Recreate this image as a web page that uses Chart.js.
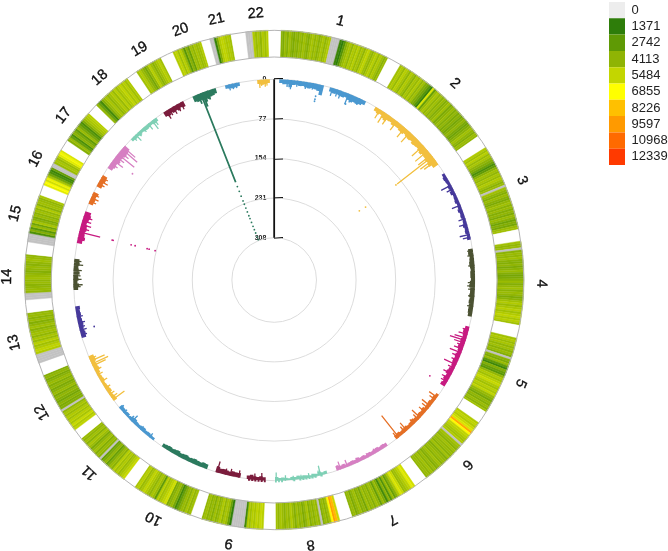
<!DOCTYPE html>
<html><head><meta charset="utf-8">
<style>html,body{margin:0;padding:0;background:#fff}canvas{display:block}</style>
<script src="https://cdn.jsdelivr.net/npm/chart.js@4"></script>
</head><body><canvas id="c" width="668" height="551"></canvas>
<script>
const chromosomes=['1','2','3','4','5','6','7','8','9','10','11','12','13','14','15','16','17','18','19','20','21','22'];
const chrSpan=[25.7,24.4,20.4,19.5,18.5,17.6,16.2,15,14.5,14.4,13.6,14.6,11.9,10.6,11.2,9.1,8,9.5,6.5,7,5,5.3];
const chrGap=[3.2,3.1,2.7,3,2.9,3.1,2.9,2.8,2.6,3,2.4,2.9,3,2.8,2.4,2.5,2.5,2.5,3,2,3.4,2.8];
const legendLabels=['0','1371','2742','4113','5484','6855','8226','9597','10968','12339'];
const legendColors=['#ededed','#2e7d0a','#5f9a05','#8fb404','#c3d600','#ffff00','#ffc000','#ff9a00','#ff6a00','#ff3a00'];
const axisTicks=[0,77,154,231,308];
const trackColors=['#4a98d0','#f2bf3e','#46399b','#4b5232','#c71a80','#e56f25','#d67fc2','#7ed0b5','#7b1c3c','#2b7a5e'];

// ring: density per bin, in hundreds of variants (null = no data)
const d1=[40,36,44,38,46,40,36,42,38,44,40,46,42,38,44,48,42,46,40,44,48,42,46,50,null,null,null,null,18,14,24,38,44,48,42,50,46,52,44,48,42,50,54,46,42,48,52,44,50,46,40,44];
const d2=[46,50,44,52,48,42,50,46,40,48,44,50,42,46,38,34,26,16,60,30,44,48,42,46,40,44,38,42,46,36,40,44,38,42,36,40,34,38,42,36,32,36,40,46,42,38,44,42];
const d3=[50,46,52,44,48,42,38,32,22,28,40,46,42,48,44,50,46,40,44,null,46,42,38,44,40,36,42,46,40,44,38,42,36,44,40,32,38,34,44,46];
const d4=[46,42,44,null,40,44,42,46,40,38,42,36,40,44,38,34,36,40,44,38,42,46,40,44,42,36,40,46,50,44,48,52,46,50,54,48,52,46];
const d5=[46,50,44,48,42,46,40,44,38,null,40,36,44,28,18,38,30,26,42,50,46,52,56,50,46,52,48,54,44,40,34,42,38,44,40,46];
const d6=[50,54,50,56,60,90,70,54,52,48,46,50,null,46,44,40,46,42,44,40,46,38,42,44,40,46,42,38,44,40,46,42,44,42];
const d7=[58,62,54,50,46,44,56,60,50,40,30,44,24,40,20,36,44,30,42,46,38,44,40,46,34,42,38,46,42,36,44,40];
const d8=[56,84,94,70,46,40,44,38,null,42,46,40,44,38,48,42,36,44,40,46,38,44,50,42,46,40,44,48,42,46];
const d9=[52,56,50,54,48,52,46,50,20,null,null,null,null,null,null,14,30,44,48,42,50,44,40,46,38,44,40,46,42];
const d10=[46,42,48,40,44,38,30,20,34,44,40,36,58,54,50,46,52,28,44,48,42,46,50,54,48,44,52,48];
const d11=[56,52,48,44,50,46,52,40,44,38,30,42,36,30,null,40,44,38,46,42,36,44,48,40,46,42,44];
const d12=[54,50,56,48,52,46,50,44,48,42,null,38,36,40,34,38,42,36,44,40,36,42,38,44,40,36,42,38];
const d13=[null,null,null,null,50,54,50,46,52,44,48,42,46,44,40,46,42,38,44,40,44,42];
const d14=[null,null,null,42,44,42,40,44,42,46,44,42,38,42,44,40,42,46,44,42];
const d15=[null,null,null,null,22,38,26,44,32,48,40,36,44,40,46,42,50,40,46,44,42,48];
const d16=[62,68,58,64,48,34,22,18,30,null,null,44,48,44,50,62,66,60];
const d17=[38,44,30,22,40,36,28,44,36,28,22,36,44,48,50,52];
const d18=[42,30,20,38,44,48,42,46,50,44,52,46,50,54,48,52,46,50];
const d19=[46,50,44,40,34,42,52,46,40,44,48,52,46];
const d20=[50,54,46,52,44,26,40,30,46,42,48,44,46,50];
const d21=[null,null,16,36,50,54,52,48,50,46];
const d22=[null,null,null,50,44,48,42,50,46,52];
const ringBins=[d1,d2,d3,d4,d5,d6,d7,d8,d9,d10,d11,d12,d13,d14,d15,d16,d17,d18,d19,d20,d21,d22];

// track: baseline band depth per bin
const b1=[7,9,8,14,9,8,10,9,11,12,10,11,13,20,null,null,8,10,9,10,11,9,12,14,12,13,11,8];
const b2=[8,10,8,12,14,10,9,12,10,10,12,13,10,12,13,11,14,13,12,14,16,13,14,16,15,17,12];
const b3=[6,8,7,6,8,7,9,6,7,8,6,7,9,7,8,6,7,9,7,8,6,7];
const b4=[9,10,8,9,10,9,8,9,9,8,10,11,9,9,10,9,10,9,9,9,8];
const b5=[8,10,9,8,10,9,11,9,8,10,9,10,9,8,10,12,9,11,8,10];
const b6=[6,8,7,9,8,7,10,8,9,7,8,10,8,7,9,8,7,9,8];
const b7=[7,8,7,9,8,7,8,6,8,7,9,7,8,7,6,8,7,9];
const b8=[6,5,7,5,6,4,5,6,5,7,5,6,4,5,6,5,7];
const b9=[6,8,6,7,9,7,null,null,9,9,10,8,9,10,9,12];
const b10=[9,10,8,9,10,9,8,10,9,8,10,9,8,9,8,7];
const b11=[5,6,7,6,8,7,6,7,9,8,6,7,6,7,8];
const b12=[8,7,6,9,8,7,6,8,7,6,8,10,9,8,11,10];
const b13=[null,null,null,9,10,8,9,10,9,8,9,8,9];
const b14=[null,null,9,11,8,10,9,12,10,9,11,10];
const b15=[null,null,10,14,12,11,13,12,10,12,14,12];
const b16=[9,10,9,11,null,null,10,9,11,10];
const b17=[10,12,11,14,12,13,15,14,12];
const b18=[6,7,6,8,6,7,8,7,6,8,7];
const b19=[10,12,9,11,10,12,9,11];
const b20=[12,14,13,15,14,16,13,12,10];
const b21=[null,7,8,9,8,7];
const b22=[null,null,8,10,9,7];
const bandBins=[b1,b2,b3,b4,b5,b6,b7,b8,b9,b10,b11,b12,b13,b14,b15,b16,b17,b18,b19,b20,b21,b22];

// track: isolated spikes [genomic fraction, value]
const s1=[[.09,14],[.13,18],[.2,12],[.3,14],[.38,13],[.6,16],[.66,14],[.7,16],[.79,22],[.83,16],[.92,14]];
const s2=[[.06,20],[.12,24],[.18,22],[.3,22],[.42,24],[.5,26],[.72,30],[.8,32],[.86,32],[.885,87],[.92,34],[.95,28]];
const s3=[[.19,22],[.25,14],[.5,18],[.7,14],[.78,16],[.93,20],[.97,15]];
const s4=[[.03,11],[.1,12],[.25,12],[.5,14],[.55,15],[.6,13],[.7,12],[.85,12]];
const s5=[[.05,12],[.12,18],[.18,24],[.22,32],[.26,22],[.3,14],[.36,18],[.42,24],[.48,16],[.55,14],[.62,26],[.68,14],[.78,18],[.86,16],[.92,14]];
const s6=[[.05,19],[.1,14],[.23,21],[.28,16],[.36,16],[.48,22],[.52,14],[.62,12],[.78,20],[.82,14],[.95,54],[.98,14]];
const s7=[[.25,10],[.4,9],[.6,10],[.8,14],[.93,16],[.97,10]];
const s8=[[.13,19],[.16,10],[.35,9],[.5,8],[.65,8],[.8,10],[.98,16]];
const s9=[[.08,14],[.22,12],[.53,14],[.7,14],[.8,12],[.97,22]];
const s10=[];
const s11=[[.1,10],[.35,9],[.6,16],[.65,11],[.85,9],[.97,10]];
const s12=[[.03,28],[.08,14],[.15,12],[.3,12],[.45,14],[.6,12],[.7,14],[.8,28],[.84,35],[.9,30],[.95,14]];
const s13=[[.3,12],[.42,14],[.5,12],[.6,14],[.75,12]];
const s14=[[.25,14],[.3,18],[.45,16],[.55,14],[.7,16],[.85,18],[.95,14]];
const s15=[[.3,14],[.45,42],[.55,18],[.65,20],[.75,18],[.85,18]];
const s16=[[.08,14],[.2,16],[.32,14],[.7,14],[.8,18],[.92,14]];
const s17=[[.2,16],[.33,24],[.5,20],[.61,41],[.72,22],[.84,39],[.93,30]];
const s18=[[.1,10],[.2,16],[.3,10],[.5,10],[.7,14],[.85,20],[.92,14]];
const s19=[[.15,18],[.3,14],[.5,16],[.7,15],[.88,15]];
const s20=[[.25,20],[.36,186],[.44,29],[.5,20],[.65,18]];
const s21=[[.4,12],[.6,11],[.8,10]];
const s22=[[.45,16],[.55,12],[.75,14],[.85,12]];
const spikes=[s1,s2,s3,s4,s5,s6,s7,s8,s9,s10,s11,s12,s13,s14,s15,s16,s17,s18,s19,s20,s21,s22];

// track: isolated points, parallel lists
const dotChr=[1,1,1,1,2,2,2,5,13,15,15,15,15,15,15,15,17,20,20,20,20,20,20,20,20,20,20,20,20,20,20,20];
const dotPos=[.436,.436,.436,.8,.885,.86,.84,.98,.42,.45,.45,.45,.45,.45,.45,.45,.36,.36,.36,.36,.36,.36,.36,.36,.36,.36,.36,.36,.36,.36,.36,.36];
const dotVal=[24,30,34,21,90,163,177,35,29,66,68,104,112,136,140,152,46,195,205,215,225,232,240,248,256,262,270,278,285,292,300,306];

const START=1.5, R_OUT=250, R_IN=223, R0=200.7, R308=42.3;
const rOf=v=>R0-v*(R0-R308)/308;
const chrStart=[];{let a=START;chrSpan.forEach((s,i)=>{chrStart.push(a);a+=s+chrGap[i];});}
const polar=(chr,frac,v)=>{const t=(chrStart[chr]+chrSpan[chr]*frac)*Math.PI/180,r=rOf(v);return{x:r*Math.sin(t),y:r*Math.cos(t)};};

function hex(c){return[1,3,5].map(i=>parseInt(c.substr(i,2),16));}
function colorOf(d){
  if(d===null)return'#c2c2c2';
  const stop=d*100/1371,i=Math.min(8,Math.floor(stop)),f=stop-i;
  const a=hex(legendColors[i]),b=hex(legendColors[i+1]);
  return'rgb('+a.map((x,k)=>Math.round(x+(b[k]-x)*f)).join(',')+')';
}

const ringData=[],ringColors=[];
ringBins.forEach((bins,c)=>{
  bins.forEach(d=>{ringData.push(chrSpan[c]/bins.length);ringColors.push(colorOf(d));});
  ringData.push(chrGap[c]);ringColors.push('#ffffff');
});

const datasets=[{
  type:'doughnut',data:ringData,backgroundColor:ringColors,borderColor:ringColors,borderWidth:.4,
  rotation:START,circumference:360,cutout:(R_IN/R_OUT*100)+'%',radius:'100%',order:100
},{
  type:'scatter',weight:0,data:axisTicks.map(v=>({x:0,y:0})),pointRadius:axisTicks.map(rOf),pointBackgroundColor:'rgba(0,0,0,0)',
  pointBorderColor:'#dcdcdc',pointBorderWidth:1,showLine:false,order:90,clip:false
},{
  type:'scatter',weight:0,data:[{x:0,y:0},{x:0,y:0}],pointRadius:[R_OUT-.3,R_IN],pointBackgroundColor:'rgba(0,0,0,0)',
  pointBorderColor:'#b4b4b4',pointBorderWidth:1,showLine:false,order:80,clip:false
}];
chromosomes.forEach((_,c)=>{
  const col=trackColors[c%10],bins=bandBins[c],band=[],sp=[];
  bins.forEach((v,i)=>{if(v===null)return;const f=(i+.5)/bins.length;band.push(polar(c,f,0),polar(c,f,v),{x:null,y:null});});
  spikes[c].forEach(([f,v])=>{sp.push(polar(c,f,0),polar(c,f,v),{x:null,y:null});});
  const w=chrSpan[c]/bins.length*Math.PI/180*R0+.3;
  datasets.push({type:'scatter',weight:0,showLine:true,data:band,borderColor:col,borderWidth:w,pointRadius:0,spanGaps:false,borderCapStyle:'butt',order:10});
  datasets.push({type:'scatter',weight:0,showLine:true,data:sp,borderColor:col,borderWidth:c===19?1.8:1.3,pointRadius:0,spanGaps:false,borderCapStyle:'butt',order:9});
  datasets.push({type:'scatter',weight:0,showLine:false,data:dotVal.map((v,i)=>dotChr[i]===c+1?polar(c,dotPos[i],v):null).filter(Boolean),
    pointRadius:.9,pointBorderWidth:0,pointBackgroundColor:col,order:8});
});
datasets.push({type:'scatter',weight:0,showLine:true,yAxisID:'v',data:[{x:0,y:axisTicks[0]},{x:0,y:axisTicks[axisTicks.length-1]}],
  borderColor:'#111',borderWidth:1.8,pointRadius:0,order:1});

const placeLegend={id:'placeLegend',afterLayout(ch){const l=ch.legend,w=l.right-l.left,h=l.bottom-l.top;
  l.left=609;l.right=609+w;l.top=2;l.bottom=2+h;}};
const chrLabels={id:'chrLabels',afterDatasetsDraw(ch){
  const g=ch.ctx,{x,y}=ch.scales;g.save();g.font='14.5px "Liberation Sans"';g.fillStyle='#111';g.strokeStyle='#111';g.lineWidth=.35;
  g.textAlign='center';g.textBaseline='middle';
  chromosomes.forEach((name,c)=>{const a=chrStart[c]+chrSpan[c]/2,t=a*Math.PI/180,r=267;
    g.save();g.translate(x.getPixelForValue(r*Math.sin(t)),y.getPixelForValue(r*Math.cos(t)));g.rotate(t);
    g.fillText(name,0,0);g.strokeText(name,0,0);g.restore();});
  g.restore();}};

new Chart(document.getElementById('c'),{
  type:'scatter',data:{datasets},plugins:[placeLegend,chrLabels],
  options:{responsive:false,animation:false,events:[],
    layout:{autoPadding:false,padding:{left:24,top:30,bottom:21,right:75}},
    scales:{
      x:{type:'linear',min:-R_OUT,max:R_OUT,display:false},
      y:{type:'linear',min:-R_OUT,max:R_OUT,display:false},
      v:{type:'linear',axis:'y',position:{x:0},reverse:true,min:-95.9,max:876.3,
        afterBuildTicks(s){s.ticks=axisTicks.map(value=>({value}));},
        afterFit(s){s.paddingTop=0;s.paddingBottom=0;},
        border:{display:false},
        grid:{drawOnChartArea:false,color:'#111',lineWidth:1.8,tickLength:-9},
        ticks:{font:{family:'"Liberation Sans"',size:7,weight:'bold'},color:'#222',padding:25,autoSkip:false,
          callback:v=>v+'    '}}
    },
    plugins:{tooltip:{enabled:false},title:{display:false},
      legend:{position:'right',align:'start',labels:{boxWidth:16,boxHeight:16.3,padding:0,
        font:{family:'"Liberation Sans"',size:13},color:'#222',
        generateLabels:()=>legendLabels.map((text,i)=>({text,fillStyle:legendColors[i],strokeStyle:legendColors[i],lineWidth:0,fontColor:'#222',hidden:false,datasetIndex:0}))}}
    }
  }
});
</script></body></html>
